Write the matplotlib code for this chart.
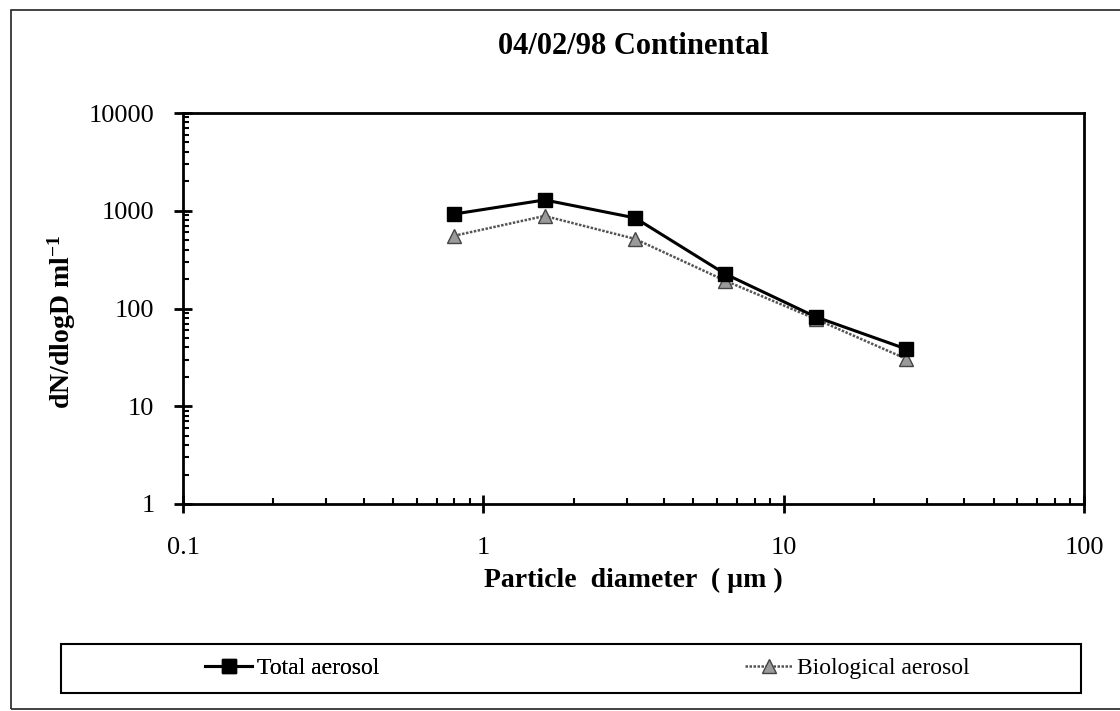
import matplotlib
matplotlib.use("Agg")
import matplotlib.pyplot as plt
from matplotlib.lines import Line2D
from matplotlib.patches import Rectangle
from matplotlib.ticker import LogLocator, FixedLocator, NullFormatter, FixedFormatter

# ---- data ----
diameter = [0.8, 1.6, 3.2, 6.4, 12.8, 25.6]
total_aerosol = [926, 1290, 845, 225, 82, 38.5]
bio_aerosol = [555, 885, 515, 192, 78, 30.5]
x_ticks = [0.1, 1, 10, 100]
x_tick_labels = ["0.1", "1", "10", "100"]
y_ticks = [1, 10, 100, 1000, 10000]
y_tick_labels = ["1", "10", "100", "1000", "10000"]
title = "04/02/98 Continental"
xlabel = "Particle  diameter  ( \u00b5m )"
series_names = ["Total aerosol", "Biological aerosol"]

plt.rcParams['font.family'] = ['Liberation Serif', 'DejaVu Serif']
plt.rcParams['mathtext.fontset'] = 'custom'
plt.rcParams['mathtext.rm'] = 'Liberation Serif:bold'
plt.rcParams['mathtext.bf'] = 'Liberation Serif:bold'
plt.rcParams['mathtext.default'] = 'rm'

W, H = 1120, 711
fig = plt.figure(figsize=(W / 100, H / 100), dpi=100)
ax = fig.add_axes([183 / W, 1 - 504 / H, (1084 - 183) / W, (504 - 113) / H])

ax.plot(diameter, total_aerosol, color='black', lw=2.2, marker='s', ms=10,
        mfc='black', mec='black', zorder=3)
ax.plot(diameter, bio_aerosol, color='#555555', lw=1.8, ls=(0, (1, 0.6)),
        marker='^', ms=10, mfc='#9a9a9a', mec='#444444', mew=1.0, zorder=2)

ax.set_xscale('log')
ax.set_yscale('log')
ax.set_xlim(0.1, 100)
ax.set_ylim(1, 10000)

ax.xaxis.set_major_locator(FixedLocator(x_ticks))
ax.xaxis.set_major_formatter(FixedFormatter(x_tick_labels))
ax.yaxis.set_major_locator(FixedLocator(y_ticks))
ax.yaxis.set_major_formatter(FixedFormatter(y_tick_labels))
ax.xaxis.set_minor_locator(LogLocator(base=10, subs=range(2, 10)))
ax.yaxis.set_minor_locator(LogLocator(base=10, subs=range(2, 10)))
ax.xaxis.set_minor_formatter(NullFormatter())
ax.yaxis.set_minor_formatter(NullFormatter())

ax.tick_params(which='major', direction='inout', length=13, width=2,
               labelsize=19, top=False, right=False)
ax.tick_params(which='minor', direction='in', length=4.5, width=1.5,
               top=False, right=False)
ax.tick_params(axis='x', which='major', pad=17)
ax.tick_params(axis='y', which='major', pad=14)

for s in ax.spines.values():
    s.set_linewidth(2)
    s.set_color('black')

fig.text((183 + 1084) / 2 / W, 1 - 47 / H, title, ha='center', va='center',
         fontsize=22, fontweight='bold')
fig.text((183 + 1084) / 2 / W, 1 - 580 / H, xlabel, ha='center', va='center',
         fontsize=20, fontweight='bold')
fig.text(62 / W, 1 - 322 / H, r"dN/dlogD ml$^{-1}$", ha='center', va='center',
         rotation=90, fontsize=20, fontweight='bold')

# outer frame
fig.add_artist(Rectangle((11 / W, 1 - 709 / H), (W + 10 - 11) / W, (709 - 10) / H,
                         transform=fig.transFigure, fill=False, lw=1.2,
                         edgecolor='#222222', clip_on=False))
# legend box
fig.add_artist(Rectangle((61 / W, 1 - 693 / H), (1081 - 61) / W, (693 - 644) / H,
                         transform=fig.transFigure, fill=False, lw=1.5,
                         edgecolor='black'))

h1 = Line2D([], [], color='black', lw=2.2, marker='s', ms=10, mfc='black', mec='black')
h2 = Line2D([], [], color='#555555', lw=1.8, ls=(0, (1, 0.6)), marker='^', ms=10,
            mfc='#9a9a9a', mec='#444444')
leg1 = fig.legend([h1], [series_names[0]], loc='center left',
                  bbox_to_anchor=(205 / W, 1 - 668 / H), frameon=False,
                  fontsize=17, handlelength=2.0, handletextpad=0.2,
                  borderpad=0, borderaxespad=0)
fig.add_artist(leg1)
fig.legend([h2], [series_names[1]], loc='center left',
           bbox_to_anchor=(745 / W, 1 - 668 / H), frameon=False,
           fontsize=17, handlelength=2.0, handletextpad=0.2,
           borderpad=0, borderaxespad=0)

fig.savefig("out.png", dpi=100, facecolor='white')
